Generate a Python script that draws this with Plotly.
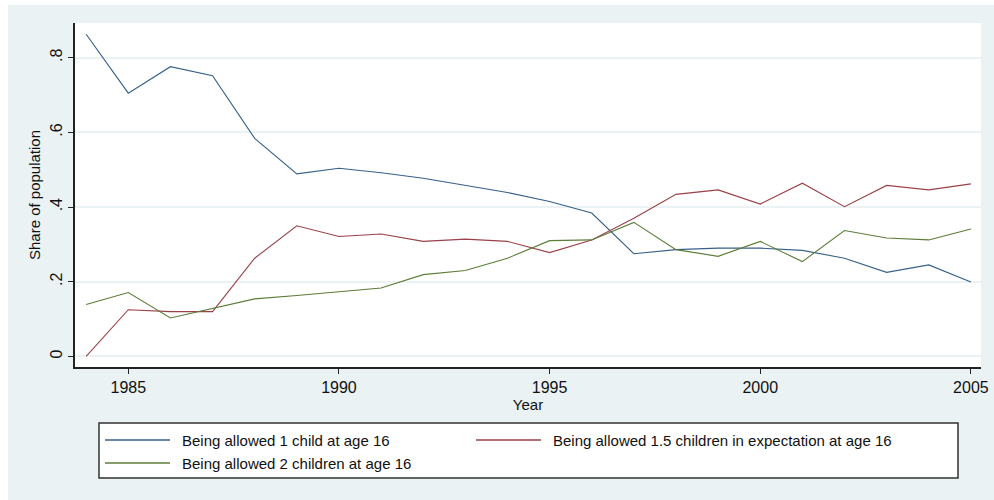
import plotly.graph_objects as go

# data
years = list(range(1984, 2006))
one_child = [0.863, 0.705, 0.776, 0.752, 0.584, 0.489, 0.504, 0.492, 0.477, 0.459, 0.439,
             0.415, 0.384, 0.275, 0.286, 0.290, 0.290, 0.284, 0.263, 0.225, 0.245, 0.199]
one_half = [0.000, 0.125, 0.120, 0.120, 0.263, 0.350, 0.321, 0.328, 0.308, 0.314, 0.308,
            0.278, 0.312, 0.370, 0.434, 0.446, 0.408, 0.464, 0.401, 0.458, 0.446, 0.462]
two_children = [0.139, 0.171, 0.103, 0.128, 0.154, 0.163, 0.174, 0.183, 0.219, 0.230, 0.263,
                0.310, 0.312, 0.359, 0.286, 0.268, 0.308, 0.254, 0.337, 0.317, 0.312, 0.341]
series_names = ["Being allowed 1 child at age 16",
                "Being allowed 1.5 children in expectation at age 16",
                "Being allowed 2 children at age 16"]
y_ticks = [0, 0.2, 0.4, 0.6, 0.8]
y_tick_text = ["0", ".2", ".4", ".6", ".8"]
x_ticks = [1985, 1990, 1995, 2000, 2005]

colors = ["#36608A", "#9A4149", "#5C7C37"]
bg = "#EAF2F3"
font = "Liberation Sans, Arial, sans-serif"

W, H = 994, 500
L, R, T, B = 75, 13, 23, 133
pw, ph = W - L - R, H - T - B


# helpers: page pixel -> paper coordinates
def px_x(x):
    return (x - L) / pw


def px_y(y):
    return (H - B - y) / ph


fig = go.Figure()
for vals, name, c in zip([one_child, one_half, two_children], series_names, colors):
    fig.add_trace(go.Scatter(x=years, y=vals, mode="lines", name=name,
                             line=dict(color=c, width=1.1)))

shapes = [
    # white page margin round the graph region (left and top)
    dict(type="rect", xref="paper", yref="paper", x0=px_x(0), x1=px_x(8), y0=px_y(H), y1=px_y(0),
         fillcolor="white", line=dict(width=0), layer="above"),
    dict(type="rect", xref="paper", yref="paper", x0=px_x(0), x1=px_x(W), y0=px_y(5), y1=px_y(0),
         fillcolor="white", line=dict(width=0), layer="above"),
    # legend box
    dict(type="rect", xref="paper", yref="paper", x0=px_x(99), x1=px_x(958), y0=px_y(478), y1=px_y(423),
         fillcolor="white", line=dict(color="#333333", width=1.5)),
]
annotations = []
legend_pos = [(105, 440), (476, 440), (105, 463)]
for (lx, ly), name, c in zip(legend_pos, series_names, colors):
    shapes.append(dict(type="line", xref="paper", yref="paper", x0=px_x(lx), x1=px_x(lx + 65),
                       y0=px_y(ly), y1=px_y(ly), line=dict(color=c, width=1.5)))
    annotations.append(dict(text=name, xref="paper", yref="paper", x=px_x(lx + 75), y=px_y(ly),
                            xanchor="left", yanchor="middle", showarrow=False,
                            font=dict(size=15, color="#111111", family=font)))

fig.update_layout(
    width=W, height=H,
    margin=dict(l=L, r=R, t=T, b=B),
    paper_bgcolor=bg, plot_bgcolor="white",
    showlegend=False,
    font=dict(family=font, color="#111111"),
    shapes=shapes, annotations=annotations,
)
fig.update_xaxes(range=[1983.735, 2005.24], tickvals=x_ticks, ticks="outside", ticklen=5,
                 tickcolor="#222222", showline=True, linecolor="#222222", linewidth=1.5,
                 showgrid=False, zeroline=False, tickfont=dict(size=16), automargin=False,
                 title=dict(text="Year", font=dict(size=15), standoff=0))
fig.update_yaxes(range=[-0.0284, 0.893], tickvals=y_ticks, ticktext=y_tick_text, tickangle=-90,
                 ticks="outside", ticklen=5, tickcolor="#222222", showline=True,
                 linecolor="#222222", linewidth=1.5, showgrid=True, gridcolor=bg, gridwidth=1.5,
                 zeroline=False, tickfont=dict(size=16), automargin=False,
                 title=dict(text="Share of population", font=dict(size=15), standoff=4))

# drop the default body margin so the figure sits at the page corner
fig.write_html("out.html", config={"displayModeBar": False},
               post_script="document.body.style.margin='0';document.body.style.overflow='hidden';")
